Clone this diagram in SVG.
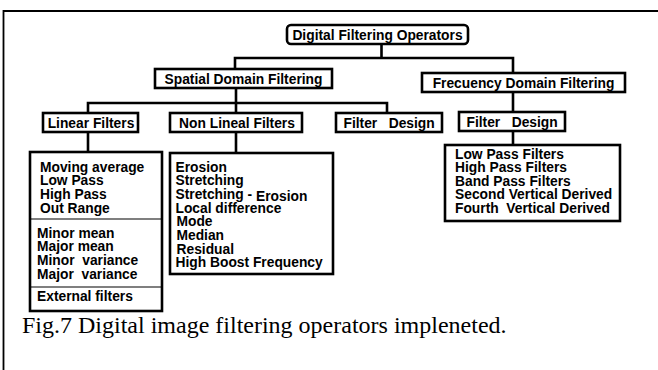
<svg xmlns="http://www.w3.org/2000/svg" width="658" height="370" viewBox="0 0 658 370">
<style>
.box{fill:#fff;stroke:#000;stroke-width:2.6}
.sep{stroke:#000;stroke-width:1.2}
.con{fill:none;stroke:#000;stroke-width:2.6}
.t{font-family:"Liberation Sans",Arial,sans-serif;font-weight:bold;font-size:13.8px;fill:#000}
.c{text-anchor:middle}
.cap{font-family:"Liberation Serif","Times New Roman",serif;font-size:24px;fill:#000}
</style>
<rect width="658" height="370" fill="#fff"/>
<path d="M3.5,370 V11 H658" fill="none" stroke="#000" stroke-width="1.8"/>
<g id="connectors">
<path class="con" d="M381.5,44 V58 M235,69 V58 H513 V73"/>
<path class="con" d="M236,88 V113 M88,113 V103 H387 V113"/>
<path class="con" d="M513,92 V112 M513,131 V145"/>
<path class="con" d="M88,132 V152 M236,132 V153"/>
</g>
<g id="root">
<rect class="box" x="287" y="25" width="181" height="19" rx="4"/>
<text class="t c" x="377.5" y="39.5">Digital Filtering Operators</text>
</g>
<g id="spatial">
<rect class="box" x="155" y="69" width="177" height="19"/>
<text class="t c" x="243.5" y="83.5">Spatial Domain Filtering</text>
</g>
<g id="frequency">
<rect class="box" x="422" y="73" width="203" height="19"/>
<text class="t c" x="523.5" y="87.5">Frecuency Domain Filtering</text>
</g>
<g id="linear">
<rect class="box" x="43" y="113" width="95" height="19"/>
<text class="t c" x="91" y="127.5">Linear Filters</text>
</g>
<g id="nonlineal">
<rect class="box" x="170" y="113" width="132" height="19"/>
<text class="t c" x="237" y="127.5">Non Lineal Filters</text>
</g>
<g id="design-spatial">
<rect class="box" x="336" y="113" width="106" height="19"/>
<text class="t" x="343.5" y="127.5" xml:space="preserve">Filter   Design</text>
</g>
<g id="design-frequency">
<rect class="box" x="459" y="112" width="106" height="19"/>
<text class="t" x="466.5" y="126.5" xml:space="preserve">Filter   Design</text>
</g>
<g id="linear-list">
<rect class="box" x="30" y="152" width="132" height="159"/>
<line class="sep" x1="30" y1="219" x2="162" y2="219"/>
<line class="sep" x1="30" y1="287" x2="162" y2="287"/>
<text class="t" x="40" y="171.5">Moving average</text>
<text class="t" x="40" y="185">Low Pass</text>
<text class="t" x="40" y="199">High Pass</text>
<text class="t" x="40" y="212.5">Out Range</text>
<text class="t" x="37" y="237.5">Minor mean</text>
<text class="t" x="37" y="251">Major mean</text>
<text class="t" x="37" y="265" xml:space="preserve">Minor  variance</text>
<text class="t" x="37" y="278.5" xml:space="preserve">Major  variance</text>
<text class="t" x="37" y="301">External filters</text>
</g>
<g id="nonlineal-list">
<rect class="box" x="170" y="153" width="163" height="121"/>
<text class="t" x="175.5" y="171.5">Erosion</text>
<text class="t" x="175.5" y="185">Stretching</text>
<text class="t" x="175.5" y="199">Stretching - <tspan dy="1.5">Erosion</tspan></text>
<text class="t" x="175.5" y="212.5">Local difference</text>
<text class="t" x="176.5" y="226">Mode</text>
<text class="t" x="176.5" y="240">Median</text>
<text class="t" x="176.5" y="253.5">Residual</text>
<text class="t" x="175.5" y="267">High Boost Frequency</text>
</g>
<g id="frequency-list">
<rect class="box" x="445" y="145" width="175" height="76"/>
<text class="t" x="455" y="158.5">Low Pass Filters</text>
<text class="t" x="455" y="172">High Pass Filters</text>
<text class="t" x="455" y="185.5">Band Pass Filters</text>
<text class="t" x="455" y="199">Second Vertical Derived</text>
<text class="t" x="455" y="212.5" xml:space="preserve">Fourth  Vertical Derived</text>
</g>
<text class="cap" x="22" y="333">Fig.7 Digital image filtering operators impleneted.</text>
</svg>
